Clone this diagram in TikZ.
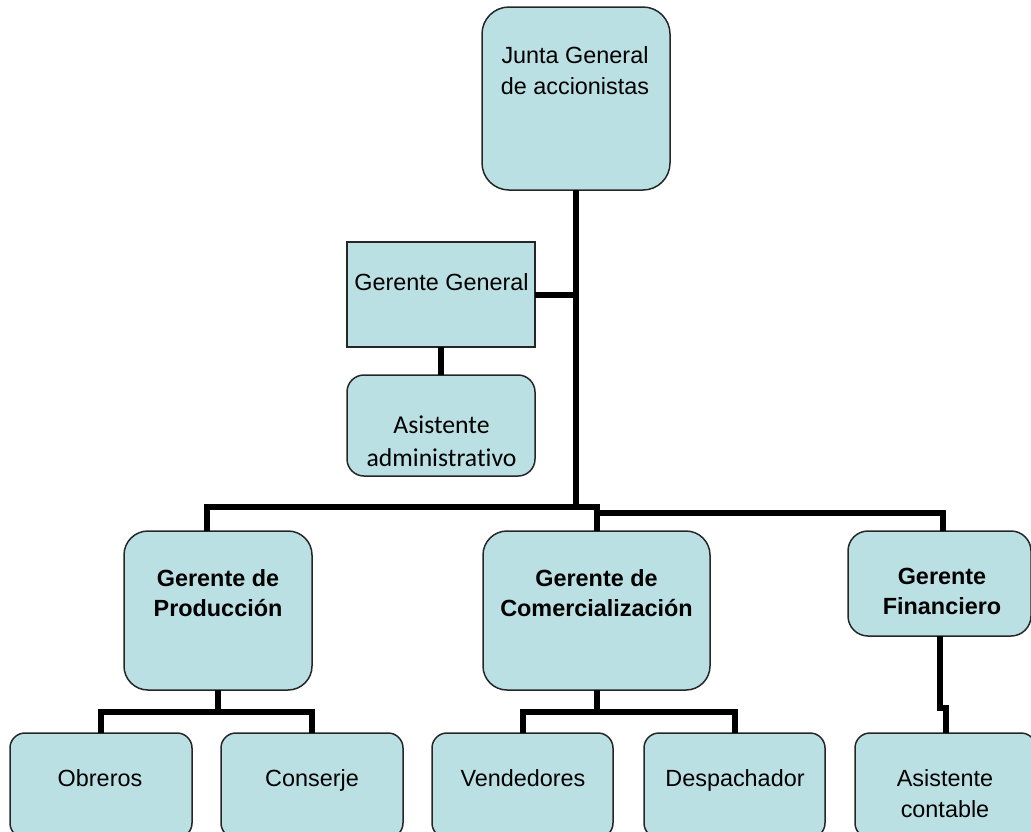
\documentclass[tikz,border=0pt]{standalone}
\usepackage{fontspec}
\setmainfont{Liberation Sans}
\newfontfamily\calibrifont[Ligatures=NoCommon]{Carlito}
\definecolor{boxfill}{RGB}{186,224,227}
\begin{document}
\begin{tikzpicture}[x=1pt,y=-1pt,
  box/.style={draw=black!85, line width=1.5pt, fill=boxfill, inner sep=0pt, outer sep=0pt},
  conn/.style={line width=6pt, draw=black, line join=miter},
  txt/.style={inner sep=0pt, align=center, font=\fontsize{23.4}{31}\selectfont},
  btxt/.style={inner sep=0pt, align=center, font=\bfseries\fontsize{23.4}{30}\selectfont},
  ctxt/.style={inner sep=0pt, align=center, font=\calibrifont\fontsize{25.7}{33}\selectfont}]
\useasboundingbox (0,0) rectangle (1031,831);
\clip (0,0) rectangle (1031,831);

% boxes
\node[box, rounded corners=27pt, minimum width=188pt, minimum height=183pt] (junta) at (576,98.5) {};
\node[box, minimum width=188pt, minimum height=105pt] (gg) at (441,294.5) {};
\node[box, rounded corners=17pt, minimum width=188pt, minimum height=101pt] (asadm) at (441,425.5) {};
\node[box, rounded corners=24pt, minimum width=188pt, minimum height=159pt] (prod) at (218,610.5) {};
\node[box, rounded corners=24pt, minimum width=227pt, minimum height=159pt] (com) at (596.5,610.5) {};
\node[box, rounded corners=20pt, minimum width=183pt, minimum height=105pt] (fin) at (939.5,583.5) {};
\node[box, rounded corners=15pt, minimum width=182pt, minimum height=105pt] (obr) at (101,785.5) {};
\node[box, rounded corners=15pt, minimum width=182pt, minimum height=105pt] (con) at (312,785.5) {};
\node[box, rounded corners=15pt, minimum width=181pt, minimum height=105pt] (ven) at (522.5,785.5) {};
\node[box, rounded corners=15pt, minimum width=181pt, minimum height=105pt] (des) at (734.5,785.5) {};
\node[box, rounded corners=15pt, minimum width=181pt, minimum height=105pt] (ascon) at (945.5,785.5) {};

% texts
\node[txt] (tj) at (575,71) {Junta General\\de accionistas};
\node[txt, anchor=base] (tgg) at (441.5,290) {Gerente General};
\node[ctxt] (tasadm) at (441.5,441) {Asistente\\administrativo};
\node[btxt] (tprod) at (218,593) {Gerente de\\Producción};
\node[btxt] (tcom) at (596.5,593) {Gerente de\\Comercialización};
\node[btxt] (tfin) at (942,591) {Gerente\\Financiero};
\node[txt, anchor=base] (tobr) at (100,786) {Obreros};
\node[txt, anchor=base] (tcon) at (312,786) {Conserje};
\node[txt, anchor=base] (tven) at (523,786) {Vendedores};
\node[txt, anchor=base] (tdes) at (735,786) {Despachador};
\node[txt] (tascon) at (945,794) {Asistente\\contable};

% connectors
\coordinate (bus) at (576,507);
\coordinate (busR) at (596.5,513);
\draw[conn] (junta.south) -- (bus);
\draw[conn] (gg.east) -- (gg.east -| junta.south);
\draw[conn] (gg.south) -- (asadm.north);
\draw[conn] ([xshift=-11pt]prod.north) |- (bus) -| (com.north);
\draw[conn] (busR) -| ([xshift=3.5pt]fin.north);
\draw[conn] (prod.south) -- ++(0,22) coordinate (pj);
\draw[conn] (obr.north) |- (pj) -| (con.north);
\draw[conn] (com.south) -- ++(0,22) coordinate (cj);
\draw[conn] (ven.north) |- (cj) -| (des.north);
\draw[conn] (fin.south) -- ++(0,72) -| (ascon.north);
\end{tikzpicture}
\end{document}
